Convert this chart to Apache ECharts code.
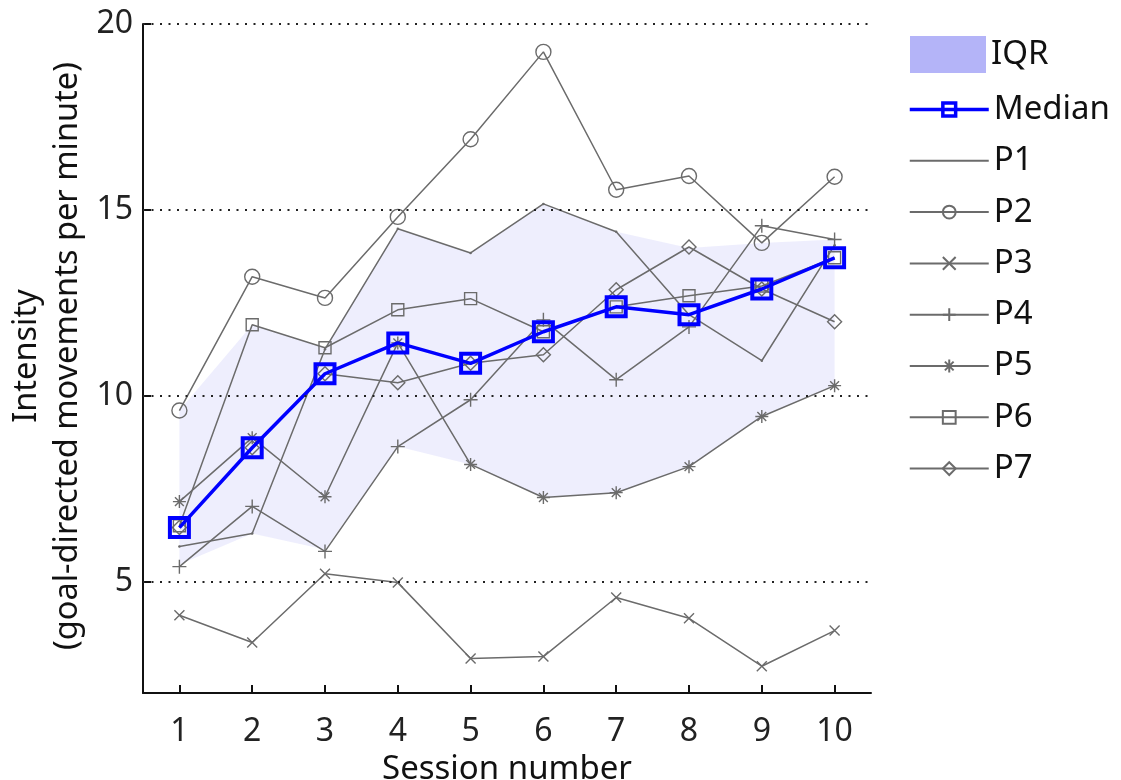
<!DOCTYPE html>
<html>
<head>
<meta charset="utf-8">
<script src="https://cdn.jsdelivr.net/npm/echarts@6/dist/echarts.min.js"></script>
<style>
html,body{margin:0;padding:0;background:#fff;}
#chart{width:1121px;height:780px;}
</style>
</head>
<body>
<div id="chart"></div>
<script>
const sessions = ['1','2','3','4','5','6','7','8','9','10'];
const yTicks = [5, 10, 15, 20];
const iqrUpper = [9.6, 11.91, 11.29, 14.49, 13.84, 15.16, 14.41, 13.97, 14.11, 14.2];
const iqrLower = [5.46, 6.29, 5.86, 8.63, 8.15, 7.26, 7.39, 8.09, 9.44, 10.27];
const median = [6.45, 8.6, 10.59, 11.42, 10.87, 11.72, 12.39, 12.18, 12.87, 13.71];
const p1 = [5.94, 6.29, 11.25, 14.49, 13.84, 15.16, 14.41, 12.18, 10.94, 14.05];
const p2 = [9.6, 13.2, 12.63, 14.81, 16.9, 19.25, 15.54, 15.91, 14.11, 15.89];
const p3 = [4.09, 3.36, 5.21, 4.97, 2.93, 2.98, 4.57, 4.01, 2.72, 3.68];
const p4 = [5.4, 7.02, 5.81, 8.63, 9.89, 12.04, 10.43, 11.85, 14.57, 14.2];
const p5 = [7.15, 8.87, 7.28, 11.42, 8.15, 7.26, 7.39, 8.09, 9.44, 10.27];
const p6 = [6.5, 11.91, 11.29, 12.31, 12.61, 11.72, 12.39, 12.69, 12.95, 13.71];
const p7 = [6.45, 8.6, 10.59, 10.35, 10.87, 11.1, 12.85, 14.0, 12.87, 11.99];

const FONT = '"Noto Sans", "Open Sans", sans-serif';
const GRAY = '#6b6b6b';
const SYM = {
  dot: 'circle',
  circle: 'path://M10,5A5,5,0,1,1,0,5A5,5,0,1,1,10,5Z',
  x: 'path://M0,0L10,10M10,0L0,10',
  plus: 'path://M0,5L10,5M5,0L5,10',
  star: 'path://M5,0L5,10M0,5L10,5M1.6,1.6L8.4,8.4M8.4,1.6L1.6,8.4',
  square: 'path://M0,0L10,0L10,10L0,10Z',
  diamond: 'path://M5,0L10,5L5,10L0,5Z'
};
function pSeries(name, data, sym, size) {
  return {
    name: name, type: 'line', data: data, z: 3,
    symbol: SYM[sym], symbolSize: size,
    lineStyle: { color: GRAY, width: 1.5 },
    itemStyle: sym === 'dot' ? { color: GRAY } : { color: 'rgba(0,0,0,0)', borderColor: GRAY, borderWidth: 1.4 },
    emphasis: { disabled: true },
    animation: false
  };
}
const iqrDiff = iqrUpper.map((u, i) => +(u - iqrLower[i]).toFixed(3));

const chart = echarts.init(document.getElementById('chart'), null, { renderer: 'canvas' });
chart.setOption({
  animation: false,
  backgroundColor: '#fff',
  textStyle: { fontFamily: FONT },
  grid: { left: 143, top: 24, right: 250, bottom: 87, containLabel: false, outerBoundsMode: 'none' },
  xAxis: {
    type: 'category', data: sessions, boundaryGap: true,
    name: 'Session number', nameLocation: 'middle', nameGap: 56,
    nameTextStyle: { fontSize: 33, color: '#111', fontFamily: FONT },
    axisLine: { show: true, lineStyle: { color: '#111', width: 2 } },
    axisTick: { show: true, inside: true, alignWithLabel: true, length: 8, lineStyle: { color: '#111', width: 2 } },
    axisLabel: { fontSize: 32, color: '#222', margin: 23, fontFamily: FONT },
    splitLine: { show: false }
  },
  yAxis: {
    type: 'value', min: 2, max: 20,
    axisLine: { show: true, lineStyle: { color: '#111', width: 2 } },
    axisTick: { show: true, inside: true, length: 8, customValues: yTicks, lineStyle: { color: '#111', width: 2 } },
    axisLabel: { customValues: yTicks, fontSize: 32, color: '#222', margin: 10, fontFamily: FONT },
    splitLine: { show: false }
  },
  legend: [
    {
      data: [{ name: 'IQR', icon: 'rect', itemStyle: { color: '#b4b4f8', opacity: 1, borderWidth: 0 } }],
      left: 910, top: 36, padding: 0, itemWidth: 76, itemHeight: 37, orient: 'vertical',
      selectedMode: false,
      textStyle: { fontSize: 33, color: '#111', fontFamily: FONT, lineHeight: 37 }
    },
    {
      data: [
        { name: 'Median', lineStyle: { width: 3.5 }, itemStyle: { borderWidth: 3.5 } },
        { name: 'P1', itemStyle: { opacity: 0 } }, 'P2', 'P3', 'P4', 'P5', 'P6', 'P7'
      ],
      left: 908, top: 93, padding: 0, itemWidth: 79, itemHeight: 16, orient: 'vertical', itemGap: 18.3,
      selectedMode: false,
      textStyle: { fontSize: 33, color: '#111', fontFamily: FONT, lineHeight: 32 }
    }
  ],
  graphic: [
    { type: 'text', x: 27, y: 356, rotation: Math.PI / 2,
      style: { text: 'Intensity', font: '32.5px ' + FONT, fill: '#111', align: 'center', verticalAlign: 'middle' } },
    { type: 'text', x: 68, y: 356, rotation: Math.PI / 2,
      style: { text: '(goal-directed movements per minute)', font: '32.5px ' + FONT, fill: '#111', align: 'center', verticalAlign: 'middle' } }
  ],
  series: [
    {
      name: 'IQRlow', type: 'line', data: iqrLower, stack: 'iqr', z: 1,
      symbol: 'none', lineStyle: { width: 0, opacity: 0 }, silent: true,
      markLine: {
        silent: true, symbol: 'none', label: { show: false },
        lineStyle: { type: [2, 6.5], color: '#222', width: 2 },
        data: yTicks.map(v => ({ yAxis: v }))
      }
    },
    {
      name: 'IQR', type: 'line', data: iqrDiff, stack: 'iqr', z: 2,
      symbol: 'none', lineStyle: { width: 0, opacity: 0 }, silent: true,
      itemStyle: { color: '#b4b4f8' },
      areaStyle: { color: '#b4b4f8', opacity: 0.23 }
    },
    pSeries('P1', p1, 'dot', 2.5),
    pSeries('P2', p2, 'circle', 15),
    pSeries('P3', p3, 'x', 10),
    pSeries('P4', p4, 'plus', 14),
    pSeries('P5', p5, 'star', 13),
    pSeries('P6', p6, 'square', 12),
    pSeries('P7', p7, 'diamond', 14),
    {
      name: 'Median', type: 'line', data: median, z: 4,
      symbol: 'rect', symbolSize: 19,
      lineStyle: { color: '#0000ff', width: 3.5 },
      itemStyle: { color: 'rgba(0,0,0,0)', borderColor: '#0000ff', borderWidth: 4 },
      emphasis: { disabled: true }
    }
  ]
});
</script>
</body>
</html>
